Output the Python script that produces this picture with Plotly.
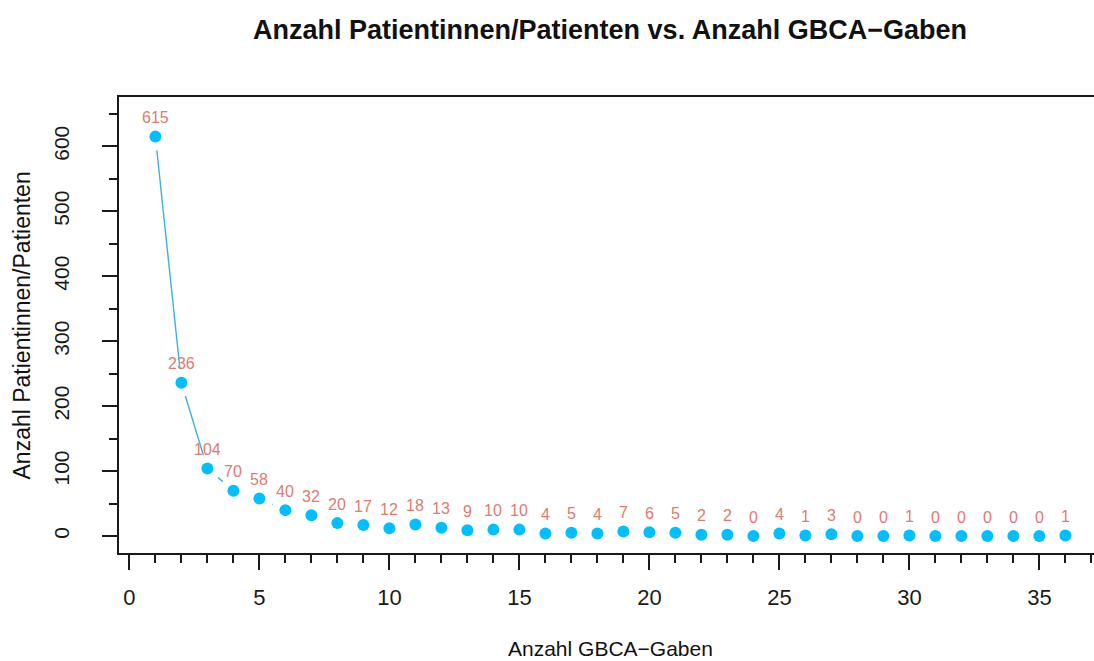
"""
Anzahl Patientinnen/Patienten vs. Anzahl GBCA-Gaben
R-style point/line plot (type = "b") rebuilt with plotly.
"""

import plotly.graph_objects as go

# ---------------------------------------------------------------------------
# DATA
# ---------------------------------------------------------------------------
GABEN = list(range(1, 37))
PATIENTEN = [
    615, 236, 104, 70, 58, 40, 32, 20, 17, 12, 18, 13,
    9, 10, 10, 4, 5, 4, 7, 6, 5, 2, 2, 0,
    4, 1, 3, 0, 0, 1, 0, 0, 0, 0, 0, 1,
]
X_MAJOR = [0, 5, 10, 15, 20, 25, 30, 35]
Y_MAJOR = [0, 100, 200, 300, 400, 500, 600]

TITLE = "Anzahl Patientinnen/Patienten vs. Anzahl GBCA\u2212Gaben"
X_TITLE = "Anzahl GBCA\u2212Gaben"
Y_TITLE = "Anzahl Patientinnen/Patienten"

# ---------------------------------------------------------------------------
# STYLE
# ---------------------------------------------------------------------------
FONT = "Liberation Sans, Arial, sans-serif"
POINT_COLOR = "#00BFFF"
LINE_COLOR = "#3BB3DE"
LABEL_COLOR = "#E07B6E"
AXIS_COLOR = "#1a1a1a"
TEXT_COLOR = "#111111"

fig = go.Figure()

# connecting line (gaps around the points are punched by white discs below)
fig.add_trace(go.Scatter(
    x=GABEN, y=PATIENTEN, mode="lines",
    line=dict(color=LINE_COLOR, width=1.4),
    hoverinfo="skip", showlegend=False,
))
fig.add_trace(go.Scatter(
    x=GABEN, y=PATIENTEN, mode="markers",
    marker=dict(color="white", size=28, line=dict(width=0)),
    hoverinfo="skip", showlegend=False,
))
fig.add_trace(go.Scatter(
    x=GABEN, y=PATIENTEN, mode="markers",
    marker=dict(color=POINT_COLOR, size=12, line=dict(width=0)),
    showlegend=False,
))

# value labels above the points
for gx, gy in zip(GABEN, PATIENTEN):
    fig.add_annotation(
        x=gx, y=gy, text=str(gy), showarrow=False,
        yshift=19, font=dict(family=FONT, size=16, color=LABEL_COLOR),
    )

# axis titles (R centres them on the full plot region)
fig.add_annotation(
    xref="paper", yref="paper", x=0.5036, y=-0.21, yanchor="middle",
    text=X_TITLE, showarrow=False,
    font=dict(family=FONT, size=21, color=TEXT_COLOR),
)
fig.add_annotation(
    xref="paper", yref="paper", x=-0.099, y=0.5, xanchor="center",
    text=Y_TITLE, showarrow=False, textangle=-90,
    font=dict(family=FONT, size=23, color=TEXT_COLOR),
)

fig.update_layout(
    width=1094,
    height=661,
    margin=dict(l=119, r=0, t=97, b=108),
    paper_bgcolor="white",
    plot_bgcolor="white",
    title=dict(
        text=f"<b>{TITLE}</b>", x=0.5036, xref="paper", xanchor="center",
        y=0.955, yanchor="middle",
        font=dict(family=FONT, size=27, color=TEXT_COLOR),
    ),
    xaxis=dict(
        range=[-0.4, 37.1],
        tickmode="array", tickvals=X_MAJOR,
        ticks="outside", ticklen=15, tickwidth=1.5, tickcolor=AXIS_COLOR,
        ticklabelstandoff=9,
        minor=dict(tickmode="linear", tick0=0, dtick=1, ticks="outside",
                   ticklen=8, tickwidth=1.5, tickcolor=AXIS_COLOR),
        showline=True, linecolor=AXIS_COLOR, linewidth=1.5, mirror=True,
        showgrid=False, zeroline=False,
        tickfont=dict(family=FONT, size=22, color=AXIS_COLOR),
    ),
    yaxis=dict(
        range=[-26, 676],
        tickmode="array", tickvals=Y_MAJOR, tickangle=-90,
        ticks="outside", ticklen=15, tickwidth=1.5, tickcolor=AXIS_COLOR,
        ticklabelstandoff=25,
        minor=dict(tickmode="linear", tick0=0, dtick=50, ticks="outside",
                   ticklen=8, tickwidth=1.5, tickcolor=AXIS_COLOR),
        showline=True, linecolor=AXIS_COLOR, linewidth=1.5,
        showgrid=False, zeroline=False,
        tickfont=dict(family=FONT, size=21, color=AXIS_COLOR),
    ),
)

# drop the default 8px body margin so the figure fills the window exactly
fig.write_html(
    "out.html",
    config={"displayModeBar": False},
    post_script="document.body.style.margin='0';"
                "document.body.style.overflow='hidden';",
)
